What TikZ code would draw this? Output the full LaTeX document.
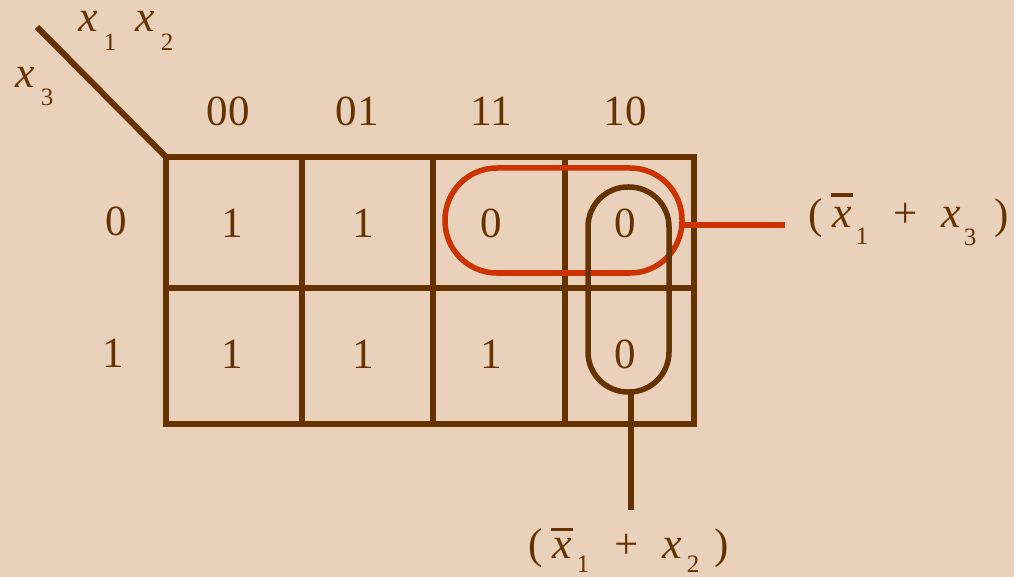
\documentclass[tikz,border=0pt]{standalone}
\usepackage{fontspec}
\setmainfont{Liberation Serif}[ItalicFont={Liberation Serif Italic}]
\definecolor{bgc}{RGB}{233,209,187}
\definecolor{kbrown}{RGB}{102,51,0}
\definecolor{kred}{RGB}{204,51,0}
\newcommand\ovx[1]{\makebox[0pt][l]{\hspace{-1pt}\rule[#1]{22pt}{3.5pt}}\textit{x}}
\begin{document}
\begin{tikzpicture}[x=1pt,y=-1pt,
  txt/.style={text=kbrown,inner sep=0pt,anchor=base,font=\fontsize{43}{50}\selectfont},
  var/.style={txt,font=\fontsize{44}{50}\selectfont\itshape,text height=21pt,text depth=0pt},
  subs/.style={txt,font=\fontsize{25}{30}\selectfont},
  gridline/.style={draw=kbrown,line width=5.5pt},
  loopred/.style={draw=kred,line width=5.5pt,inner sep=0pt,outer sep=0pt},
  loopbrown/.style={draw=kbrown,line width=5.5pt,inner sep=0pt,outer sep=0pt},
  lead/.style={line width=5.5pt}]
\useasboundingbox[fill=bgc] (0,0) rectangle (1014,577);
% diagonal
\draw[kbrown,line width=6pt] (37,27) -- (166,157);
% corner labels
\node[var] (vx1) at (88,32) {x};
\node[subs] (s1) at (110,51) {1};
\node[var] (vx2) at (145,32) {x};
\node[subs] (s2) at (167,51) {2};
\node[var] (vx3) at (25,88) {x};
\node[subs] (s3) at (47,106) {3};
% column headers
\node[txt] (h00) at (228,126) {00};
\node[txt] (h01) at (357,126) {01};
\node[txt] (h11) at (491,126) {11};
\node[txt] (h10) at (625,126) {10};
% row headers
\node[txt] (r0) at (116,236) {0};
\node[txt] (r1) at (113,367) {1};
% grid
\draw[gridline,line cap=rect] (166,157) rectangle (694,424);
\draw[gridline] (166,288) -- (694,288);
\foreach \cx in {302,433,565} \draw[gridline] (\cx,157) -- (\cx,424);
% cells
\node[txt] (c00) at (232,238) {1};
\node[txt] (c01) at (363,238) {1};
\node[txt] (c11) at (491,238) {0};
\node[txt] (c10) at (625,238) {0};
\node[txt] (d00) at (232,368) {1};
\node[txt] (d01) at (363,368) {1};
\node[txt] (d11) at (491,368) {1};
\node[txt] (d10) at (625,368) {0};
% loops
\node[loopred,rounded corners=52pt,minimum width=237pt,minimum height=105pt] (redloop) at (563.5,220.5) {};
\node[loopbrown,rounded corners=40pt,minimum width=81pt,minimum height=205pt] (brownloop) at (628.5,289.5) {};
% leaders
\coordinate (redend) at (785,225);
\coordinate (brownend) at (631,510);
\draw[kred,lead] (redloop.east |- redend) -- (redend);
\draw[kbrown,lead] (brownloop.south -| brownend) -- (brownend);
% right label
\node[txt] (pa1) at (816,229) {(};
\node[var] (xa1) at (842,228) {\ovx{31pt}};
\node[subs] (sa1) at (862,245) {1};
\node[txt] (pl1) at (906,228) {+};
\node[var] (xa3) at (951,228) {x};
\node[subs] (sa3) at (970,246) {3};
\node[txt] (pb1) at (1002,229) {)};
% bottom label
\node[txt] (pa2) at (536,558) {(};
\node[var] (xb1) at (562,558) {\ovx{27pt}};
\node[subs] (sb1) at (583,572) {1};
\node[txt] (pl2) at (627,558) {+};
\node[var] (xb2) at (672,558) {x};
\node[subs] (sb2) at (693,572) {2};
\node[txt] (pb2) at (722,558) {)};
\end{tikzpicture}
\end{document}
